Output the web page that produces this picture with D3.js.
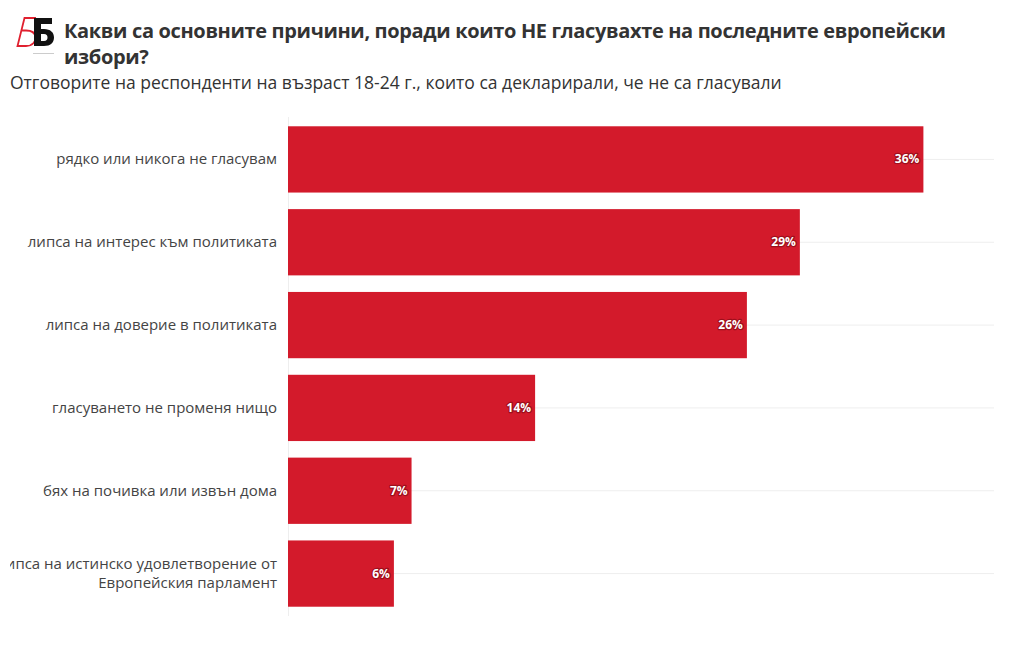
<!DOCTYPE html>
<html><head><meta charset="utf-8">
<script src="https://cdn.jsdelivr.net/npm/d3@7"></script>
<style>
body{margin:0;background:#fff;}
svg{font-family:"Open Sans","Noto Sans",sans-serif;}
</style></head>
<body>
<svg id="chart" width="1020" height="650"></svg>
<script>
const categories = [
  "рядко или никога не гласувам",
  "липса на интерес към политиката",
  "липса на доверие в политиката",
  "гласуването не променя нищо",
  "бях на почивка или извън дома",
  "липса на истинско удовлетворение от|Европейския парламент"
];
const values = [36, 29, 26, 14, 7, 6];
const valueLabels = ["36%", "29%", "26%", "14%", "7%", "6%"];
const titleLines = ["Какви са основните причини, поради които НЕ гласувахте на последните европейски", "избори?"];
const subtitle = "Отговорите на респонденти на възраст 18-24 г., които са декларирали, че не са гласували";

const svg = d3.select("#chart");
const x = d3.scaleLinear().domain([0, 40]).range([288, 994]);
const y = d3.scaleBand().domain(categories).range([118, 615]).paddingInner(0.2).paddingOuter(0.1);

// logo
const logo = svg.append("g");
logo.append("path")
  .attr("d", "M36,18 L24.5,18 L17.5,46 L26,46 C33,46 36,41 35.5,37 C35,32.5 31,30.5 26,30.5 L21,30.5")
  .attr("fill", "none").attr("stroke", "#e0202f").attr("stroke-width", 1.8).attr("stroke-linejoin", "miter");
logo.append("path")
  .attr("d", "M34,18 H52 V24 H41 V29 H44 C50.5,29 54,32.5 54,37.5 C54,42.5 50.5,46 44,46 H34 Z M41,34 V41 H44 C46.5,41 47.5,39.5 47.5,37.5 C47.5,35.5 46.5,34 44,34 Z")
  .attr("fill", "#111").attr("fill-rule", "evenodd");
logo.append("line").attr("x1", 33).attr("x2", 54).attr("y1", 53.5).attr("y2", 53.5).attr("stroke", "#ccc").attr("stroke-width", 1);

svg.append("text").attr("font-size", 20).attr("font-weight", 700).attr("fill", "#333")
  .attr("letter-spacing", -0.35)
  .selectAll("tspan").data(titleLines).join("tspan").attr("x", 64).attr("y", (d, i) => 38 + i * 26).text(d => d);
svg.append("text").attr("x", 10).attr("y", 89).attr("font-size", 17.5).attr("fill", "#333").text(subtitle);

// gridlines
svg.append("g").selectAll("line").data(categories).join("line")
  .attr("x1", 288).attr("x2", 994)
  .attr("y1", d => y(d) + y.bandwidth() / 2).attr("y2", d => y(d) + y.bandwidth() / 2)
  .attr("stroke", "#eee").attr("stroke-width", 1);

// axis line
svg.append("line").attr("x1", 288.5).attr("x2", 288.5).attr("y1", 117).attr("y2", 616).attr("stroke", "#eee");

// bars
svg.append("g").selectAll("rect").data(values).join("rect")
  .attr("x", x(0)).attr("y", (d, i) => y(categories[i]))
  .attr("width", d => x(d) - x(0)).attr("height", y.bandwidth())
  .attr("fill", "#d31a2b");

// value labels
svg.append("g").selectAll("text").data(values).join("text")
  .attr("x", d => x(d) - 4).attr("y", (d, i) => y(categories[i]) + y.bandwidth() / 2 + 4)
  .attr("text-anchor", "end").attr("font-size", 12).attr("font-weight", 700)
  .attr("fill", "#fff").attr("stroke", "#9e0f1c").attr("stroke-width", 2.5).attr("paint-order", "stroke")
  .attr("stroke-linejoin", "round")
  .text((d, i) => valueLabels[i]);

// category labels
svg.append("defs").append("clipPath").attr("id", "lc").append("rect").attr("x", 10).attr("y", 100).attr("width", 280).attr("height", 540);
const lab = svg.append("g").attr("clip-path", "url(#lc)");
lab.selectAll("text").data(categories).join("text")
  .attr("text-anchor", "end").attr("font-size", 15).attr("fill", "#444")
  .each(function (d) {
    const lines = d.split("|");
    const cy = y(d) + y.bandwidth() / 2;
    d3.select(this).selectAll("tspan").data(lines).join("tspan")
      .attr("x", 277).attr("y", (l, i) => cy + 5 + (i - (lines.length - 1) / 2) * 19).text(l => l);
  });
</script>
</body></html>
